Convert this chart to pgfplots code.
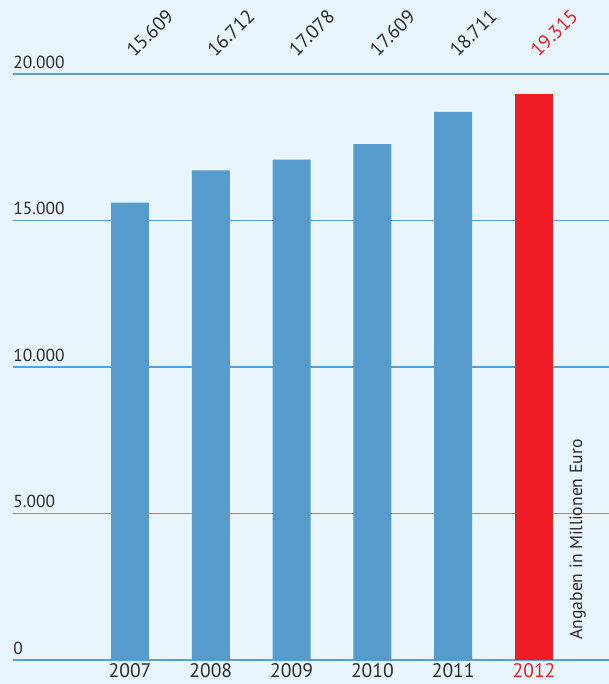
\documentclass[border=0pt]{standalone}
\usepackage{pgfplots}
\pgfplotsset{compat=1.18}
\usepackage{fontspec}
\setmainfont{PT Sans}
\usetikzlibrary{backgrounds}
\definecolor{bg}{HTML}{E8F5FD}
\definecolor{gridc}{HTML}{5A9FD4}
\definecolor{barc}{HTML}{559BCB}
\definecolor{redc}{HTML}{EE1C25}
\definecolor{txt}{HTML}{2B2A29}
\tikzset{valnode/.style={xshift=10pt, yshift=20.5pt, rotate=45, text=txt, font=\fontsize{9.7}{10}\selectfont}}
\begin{document}
\begin{tikzpicture}[x=1pt,y=1pt]
\begin{axis}[
  scale only axis,
  width=298pt, height=293pt,
  xmin=-1.448, xmax=5.928,
  ymin=0, ymax=20000,
  scaled y ticks=false,
  axis line style={draw=none},
  tick style={draw=none},
  ytick={0,5000,10000,15000,20000},
  yticklabels={\mbox{0},\mbox{5.000},\mbox{10.000},\mbox{15.000},\mbox{20.000}},
  ymajorgrids,
  grid style={gridc, line width=0.9pt},
  yticklabel style={anchor=south west, inner xsep=0pt, inner ysep=2.5pt, font=\fontsize{8.7}{10}\selectfont, text=txt},
  xtick={0,1,2,3,4,5},
  xticklabels={\mbox{2007},\mbox{2008},\mbox{2009},\mbox{2010},\mbox{2011},\mbox{\textcolor{redc}{2012}}},
  xticklabel style={font=\fontsize{9.8}{11}\selectfont, text=txt, inner ysep=1.5pt},
  /pgf/number format/assume math mode=true,
  clip=false,
]
\path (rel axis cs:0,0) coordinate (sw) (rel axis cs:1,1) coordinate (ne);
\addplot[ybar, bar width=0.47, fill=barc, draw=none] coordinates {
 (0,15609) (1,16712) (2,17078) (3,17609) (4,18711)};
\addplot[ybar, bar width=0.47, fill=redc, draw=none] coordinates {(5,19315)};
\node[valnode] at (axis cs:0,20000) {15.609};
\node[valnode] at (axis cs:1,20000) {16.712};
\node[valnode] at (axis cs:2,20000) {17.078};
\node[valnode] at (axis cs:3,20000) {17.609};
\node[valnode] at (axis cs:4,20000) {18.711};
\node[valnode, text=redc] at (axis cs:5,20000) {19.315};
\node[rotate=90, anchor=west, text=txt, font=\fontsize{8.8}{9}\selectfont, inner sep=0pt] at (axis cs:5.54,683) {Angaben in Millionen Euro};
\end{axis}
\begin{scope}[on background layer]
\fill[bg] ([shift={(-6.5pt,-12pt)}]sw) rectangle ([shift={(0pt,37pt)}]ne);
\end{scope}
\pgfresetboundingbox
\path ([shift={(-6.5pt,-12pt)}]sw) rectangle ([shift={(0pt,37pt)}]ne);
\end{tikzpicture}
\end{document}
